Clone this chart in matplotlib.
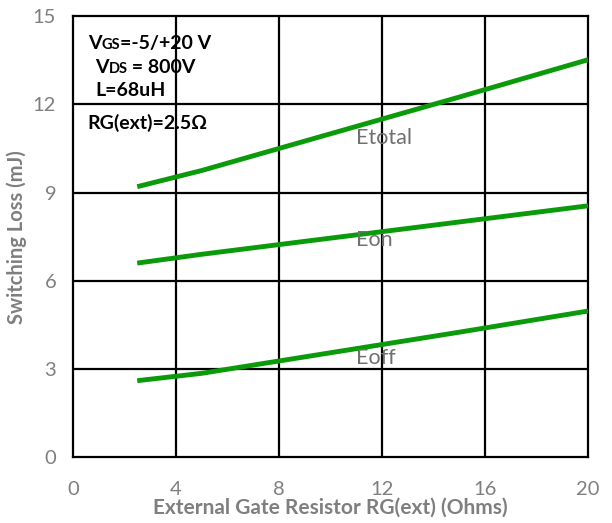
import matplotlib
matplotlib.use("Agg")
import matplotlib.pyplot as plt

plt.rcParams['font.family'] = ['Lato', 'DejaVu Sans']

# gate resistance (Ohms) and switching energies (mJ)
rg = [2.5, 5, 10, 15, 20]
e_on = [6.6, 6.9, 7.45, 8.0, 8.55]
e_off = [2.6, 2.85, 3.55, 4.25, 4.97]
e_total = [9.2, 9.75, 11.0, 12.25, 13.52]

x_ticks = [0, 4, 8, 12, 16, 20]
y_ticks = [0, 3, 6, 9, 12, 15]

gris = '#7f7f7f'
vert = '#0a9a0a'

fig = plt.figure(figsize=(6.12, 5.23), dpi=100)
ax = fig.add_axes([0.119, 0.126, 0.842, 0.843])

for y in y_ticks[1:-1]:
    ax.axhline(y, color='black', lw=1.6, zorder=1)
for x in x_ticks[1:-1]:
    ax.axvline(x, color='black', lw=1.6, zorder=1)

for serie in (e_total, e_on, e_off):
    ax.plot(rg, serie, color=vert, lw=3.5, solid_capstyle='butt', zorder=3)

ax.text(11.0, 10.85, 'Etotal', color='#707070', fontsize=15.5, va='center', zorder=4)
ax.text(11.0, 7.38, 'Eon', color='#707070', fontsize=15.5, va='center', zorder=4)
ax.text(11.0, 3.37, 'Eoff', color='#707070', fontsize=15.5, va='center', zorder=4)

ax.set_xlim(0, 20)
ax.set_ylim(0, 15)
ax.set_xticks(x_ticks)
ax.set_yticks(y_ticks)
ax.tick_params(length=0, labelsize=14.5, labelcolor=gris)
ax.tick_params(axis='x', pad=17)
ax.tick_params(axis='y', pad=12)
for s in ax.spines.values():
    s.set_linewidth(1.6)
    s.set_color('black')

ax.set_xlabel('External Gate Resistor RG(ext) (Ohms)', fontsize=15, fontweight='bold',
              color=gris, labelpad=0)
ax.set_ylabel('Switching Loss (mJ)', fontsize=14.5, fontweight='bold', color=gris, labelpad=4)


# texte avec indice en petites lettres (GS, DS)
def texte_indice(x, y, morceaux):
    prec = None
    for txt, taille in morceaux:
        if prec is None:
            prec = ax.text(x, y, txt, fontsize=taille, fontweight='bold', color='black',
                           va='baseline', transform=ax.transAxes, zorder=5)
        else:
            prec = ax.annotate(txt, xy=(1, 0), xycoords=prec, fontsize=taille,
                               fontweight='bold', color='black', va='bottom', zorder=5)


texte_indice(0.029, 0.925, [('V', 14), ('GS', 10.5), ('=-5/+20 V', 14)])
texte_indice(0.043, 0.872, [('V', 14), ('DS', 10.5), (' = 800V', 14)])
ax.text(0.043, 0.818, 'L=68uH', fontsize=14, fontweight='bold', va='baseline',
        transform=ax.transAxes, zorder=5)
ax.text(0.029, 0.744, 'RG(ext)=2.5Ω', fontsize=14, fontweight='bold', va='baseline',
        transform=ax.transAxes, zorder=5)

fig.savefig('out.png', dpi=100, facecolor='white')
